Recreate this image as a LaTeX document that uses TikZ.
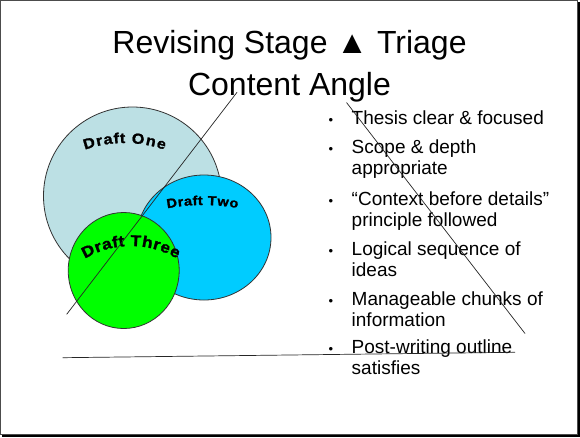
\documentclass[tikz,border=0pt]{standalone}
\usepackage{fontspec}
\setmainfont{Liberation Sans}
\newfontfamily\dfam{Liberation Sans}[FakeStretch=1.12,BoldFeatures={FakeBold=1.5}]
\definecolor{dOne}{RGB}{188,224,228}
\definecolor{dTwo}{RGB}{0,204,255}
\definecolor{dThree}{RGB}{0,255,0}
\def\spmark{-}
% #1 name, #2 cx, #3 cy, #4 radius, #5 start angle, #6 end angle, #7 font size, #8 letters/widths
\newcommand\archtext[8]{%
  \xdef\arctot{0}%
  \foreach \c/\w in {#8} {\pgfmathsetmacro\tmp{\arctot+\w}\xdef\arctot{\tmp}}%
  \xdef\arccum{0}%
  \foreach \c/\w [count=\i] in {#8} {%
    \pgfmathsetmacro\a{#5+(#6-#5)*(\arccum+\w/2)/\arctot}%
    \pgfmathsetmacro\rot{\a-90}%
    \pgfmathsetmacro\px{#2+#4*cos(\a)}%
    \pgfmathsetmacro\py{#3-#4*sin(\a)}%
    \pgfmathsetmacro\tmp{\arccum+\w}\xdef\arccum{\tmp}%
    \edef\cc{\c}\ifx\cc\spmark\else
      \node[archch, font=\dfam\bfseries\fontsize{#7}{#7}\selectfont, rotate=\rot] (#1-\i) at (\px,\py) {\c};
    \fi}%
}
\begin{document}
\begin{tikzpicture}[x=1pt,y=-1pt,
  circ/.style={draw=black!80, line width=0.8pt},
  rulel/.style={draw=black!85, line width=0.7pt},
  itm/.style={anchor=base west, align=left, font=\fontsize{19}{21}\selectfont, inner sep=0pt},
  bul/.style={anchor=base, font=\fontsize{13}{13}\selectfont, inner sep=0pt},
  ttl/.style={anchor=base, font=\fontsize{32}{32}\selectfont, inner sep=0pt},
  archch/.style={anchor=base, inner sep=0pt}]
\useasboundingbox (0,0) rectangle (580,437);
% frame
\fill[white] (0,0) rectangle (580,437);
\fill[black] (577.5,2) rectangle (580,437);
\fill[black] (2,434.8) rectangle (580,437);
\draw[black!70, line width=1pt] (0.5,0.5) rectangle (577.5,434.5);
% title
\node[ttl] (t1) at (289.5,53) {Revising Stage ▲ Triage};
\node[ttl] (t2) at (289.5,95.5) {Content Angle};
% circles
\filldraw[circ, fill=dOne] (132.5,196) ellipse[x radius=89, y radius=89];
\filldraw[circ, fill=dTwo] (204,237.5) ellipse[x radius=67, y radius=62.5];
\filldraw[circ, fill=dThree] (123.7,270.5) ellipse[x radius=55.5, y radius=58];
% arched labels
\archtext{one}{124.5}{263}{120}{109.6}{70.3}{14.5}{D/0.722,r/0.389,a/0.556,f/0.333,t/0.333,-/0.278,O/0.778,n/0.611,e/0.556}
\archtext{two}{203}{399}{194}{100.7}{79.6}{13}{D/0.722,r/0.389,a/0.556,f/0.333,t/0.333,-/0.278,T/0.611,w/0.778,o/0.611}
\archtext{three}{131}{336}{90}{121}{59}{15.5}{D/0.722,r/0.389,a/0.556,f/0.333,t/0.333,-/0.278,T/0.611,h/0.611,r/0.389,e/0.556,e/0.556}
% bullets
\node[bul] (b1) at (331,124.3) {•};
\node[itm] (i1) at (351.5,124.3) {Thesis clear \& focused};
\node[bul] (b2) at (331,153.3) {•};
\node[itm] (i2) at (351.5,174.3) {Scope \& depth\\appropriate};
\node[bul] (b3) at (331,205) {•};
\node[itm] (i3) at (351.5,226) {“Context before details”\\principle followed};
\node[bul] (b4) at (331,255.7) {•};
\node[itm] (i4) at (351.5,276.7) {Logical sequence of\\ideas};
\node[bul] (b5) at (331,305) {•};
\node[itm] (i5) at (351.5,326) {Manageable chunks of\\information};
\node[bul] (b6) at (331,353.3) {•};
\node[itm] (i6) at (351.5,374.3) {Post-writing outline\\satisfies};
% lines
\coordinate (l1a) at (66.7,314.3);
\coordinate (l1b) at (237,92.3);
\coordinate (l2a) at (346.5,102.5);
\coordinate (l2b) at (525,333.5);
\coordinate (l3a) at (62.7,357.7);
\coordinate (l3b) at (515,352.3);
\draw[rulel] (l1a) -- (l1b);
\draw[rulel] (l2a) -- (l2b);
\draw[rulel] (l3a) -- (l3b);
\end{tikzpicture}
\end{document}
